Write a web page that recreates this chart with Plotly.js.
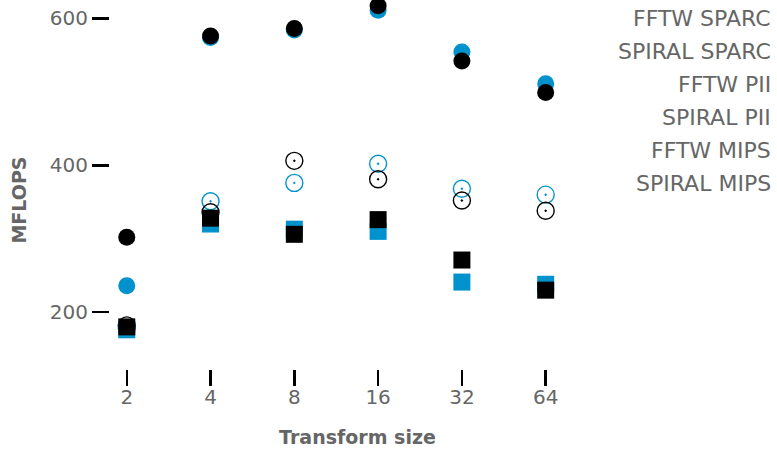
<!DOCTYPE html>
<html><head><meta charset="utf-8">
<script src="https://cdn.plot.ly/plotly-3.0.1.min.js"></script>
<style>html,body{margin:0;padding:0;background:#fff}#chart{width:777px;height:450px}</style>
</head><body><div id="chart"></div>
<script>
const sizes = ['2','4','8','16','32','64'];
const fftwSparc   = [236, 574, 584, 611, 554, 511];
const spiralSparc = [302, 576, 586, 617, 542, 499];
const fftwPII     = [178, 351, 376, 402, 368, 360];
const spiralPII   = [182, 336, 406, 381, 352, 338];
const fftwMIPS    = [176, 320, 313, 310, 241, 238];
const spiralMIPS  = [180, 328, 306, 326, 271, 230];
const seriesNames = ['FFTW SPARC', 'SPIRAL SPARC', 'FFTW PII', 'SPIRAL PII', 'FFTW MIPS', 'SPIRAL MIPS'];
const yTicks = [200, 400, 600];

const BLUE = '#0092cc', BLACK = '#000000', GRAY = '#666666';
const FONT = 'DejaVu Sans, sans-serif';

function tr(name, y, color, symbol) {
  const open = symbol.indexOf('open') >= 0;
  return {
    type: 'scatter', mode: 'markers', name: name, x: sizes, y: y,
    cliponaxis: false, showlegend: false,
    marker: { symbol: symbol, size: 17, color: color,
      line: { color: color, width: open ? 1.4 : 0 } }
  };
}
const data = [
  tr(seriesNames[0], fftwSparc, BLUE, 'circle'),
  tr(seriesNames[1], spiralSparc, BLACK, 'circle'),
  tr(seriesNames[2], fftwPII, BLUE, 'circle-open-dot'),
  tr(seriesNames[3], spiralPII, BLACK, 'circle-open-dot'),
  tr(seriesNames[4], fftwMIPS, BLUE, 'square'),
  tr(seriesNames[5], spiralMIPS, BLACK, 'square')
];

const annotations = seriesNames.map((n, i) => ({
  text: n, xref: 'paper', yref: 'paper', x: (773 - 110) / 495, y: (398 - (18.5 + 33 * i)) / 396,
  xanchor: 'right', yanchor: 'middle', showarrow: false,
  font: { family: FONT, size: 22, color: GRAY }
}));

const layout = {
  width: 777, height: 450,
  margin: { l: 110, r: 172, t: 2, b: 52 },
  paper_bgcolor: '#ffffff', plot_bgcolor: '#ffffff',
  showlegend: false,
  font: { family: FONT, color: GRAY, size: 20 },
  xaxis: {
    type: 'category', range: [-0.2, 5.708],
    anchor: 'free', position: (398 - 369) / 396,
    showgrid: false, zeroline: false, showline: false,
    ticks: 'outside', ticklen: 16, tickwidth: 2.5, tickcolor: '#000000',
    ticklabelstandoff: -6,
    tickfont: { family: FONT, size: 20, color: GRAY },
    title: { text: '<b>Transform size</b>', font: { family: FONT, size: 19, color: GRAY }, standoff: 22 }
  },
  yaxis: {
    range: [83.2, 622.2],
    tickvals: yTicks, ticktext: yTicks.map(String),
    showgrid: false, zeroline: false, showline: false,
    ticks: 'outside', ticklen: 17, tickwidth: 2.5, tickcolor: '#000000',
    tickfont: { family: FONT, size: 20, color: GRAY },
    title: { text: '<b>MFLOPS</b>', font: { family: FONT, size: 19, color: GRAY }, standoff: 18 }
  },
  annotations: annotations
};

Plotly.newPlot('chart', data, layout, { staticPlot: true, displayModeBar: false });
</script>
</body></html>
